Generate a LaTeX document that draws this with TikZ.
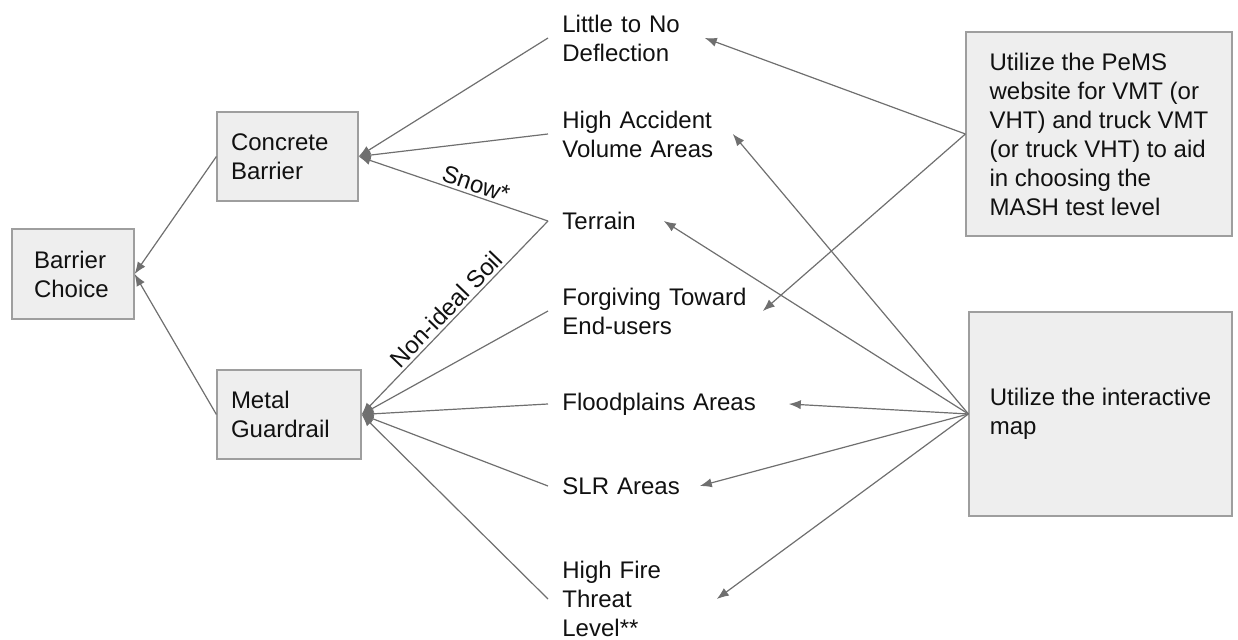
\documentclass[tikz,border=0pt]{standalone}
\usepackage{fontspec}
\setmainfont{Liberation Sans}
\usetikzlibrary{arrows.meta}
\definecolor{boxfill}{HTML}{EEEEEE}
\definecolor{boxline}{HTML}{9E9E9E}
\definecolor{connc}{HTML}{6F6F6F}
\definecolor{txt}{HTML}{111111}
\begin{document}
\begin{tikzpicture}[x=0.5pt,y=-0.5pt,
  every node/.style={font=\fontsize{12}{14.5}\selectfont, text=txt},
  box/.style={draw=boxline, fill=boxfill, line width=0.6pt, align=left, inner ysep=0pt},
  lbl/.style={anchor=west, align=left, inner xsep=7pt, inner ysep=0pt},
  arr/.style={draw=connc, line width=0.6pt, -{Latex[length=6pt,width=4.6pt]}},
  edgelbl/.style={sloped, above, inner sep=1.5pt},
]
\useasboundingbox (0,0) rectangle (1238,640);

% boxes
\node[box, inner xsep=11pt, text width=39pt, minimum height=45pt] (choice) at (73,274) {Barrier\\Choice};
\node[box, inner xsep=7pt, text width=56.5pt, minimum height=44.5pt] (concrete) at (287.5,156.5) {Concrete\\Barrier};
\node[box, inner xsep=7pt, text width=58pt, minimum height=44.5pt] (metal) at (289,414.5) {Metal\\Guardrail};
\node[box, minimum width=133pt, minimum height=102pt] (pems) at (1099,134) {Utilize the PeMS\\website for VMT (or\\VHT) and truck VMT\\(or truck VHT) to aid\\in choosing the\\MASH test level};
\node[box, minimum width=131.5pt, minimum height=102pt] (map) at (1100.5,414) {Utilize the interactive\\map};

% middle labels
\node[lbl, text width=64pt] (little) at (548,38) {Little to No\\Deflection};
\node[lbl, text width=78pt] (highacc) at (548,134) {High Accident\\Volume Areas};
\node[lbl, text width=43.5pt] (terrain) at (548,221) {Terrain};
\node[lbl, text width=93pt] (forgiving) at (548,311) {Forgiving Toward\\End-users};
\node[lbl, text width=106pt] (flood) at (548,404) {Floodplains Areas};
\node[lbl, text width=61.5pt] (slr) at (548,486) {SLR Areas};
\node[lbl, text width=70pt] (fire) at (548,599) {High Fire\\Threat\\Level**};

% to barrier choice
\draw[arr] (concrete.west) -- (choice.east);
\draw[arr] (metal.west) -- (choice.east);

% to concrete barrier
\draw[arr] (little.west) -- (concrete.east);
\draw[arr] (highacc.west) -- (concrete.east);
\draw[arr] (terrain.west) -- (concrete.east);

% to metal guardrail
\draw[arr] (terrain.west) -- (metal.east);
\draw[arr] (forgiving.west) -- (metal.east);
\draw[arr] (flood.west) -- (metal.east);
\draw[arr] (slr.west) -- (metal.east);
\draw[arr] (fire.west) -- (metal.east);

% edge labels
\path (concrete.east) -- (terrain.west) node[edgelbl, pos=0.6] (snow) {Snow*};
\path (metal.east) -- (terrain.west) node[edgelbl, pos=0.5] (soil) {Non-ideal Soil};

% from PeMS box
\draw[arr] (pems.west) -- (little.east);
\draw[arr] (pems.west) -- (forgiving.east);

% from interactive map
\draw[arr] (map.west) -- (highacc.east);
\draw[arr] (map.west) -- (terrain.east);
\draw[arr] (map.west) -- (flood.east);
\draw[arr] (map.west) -- (slr.east);
\draw[arr] (map.west) -- (fire.east);
\end{tikzpicture}
\end{document}
